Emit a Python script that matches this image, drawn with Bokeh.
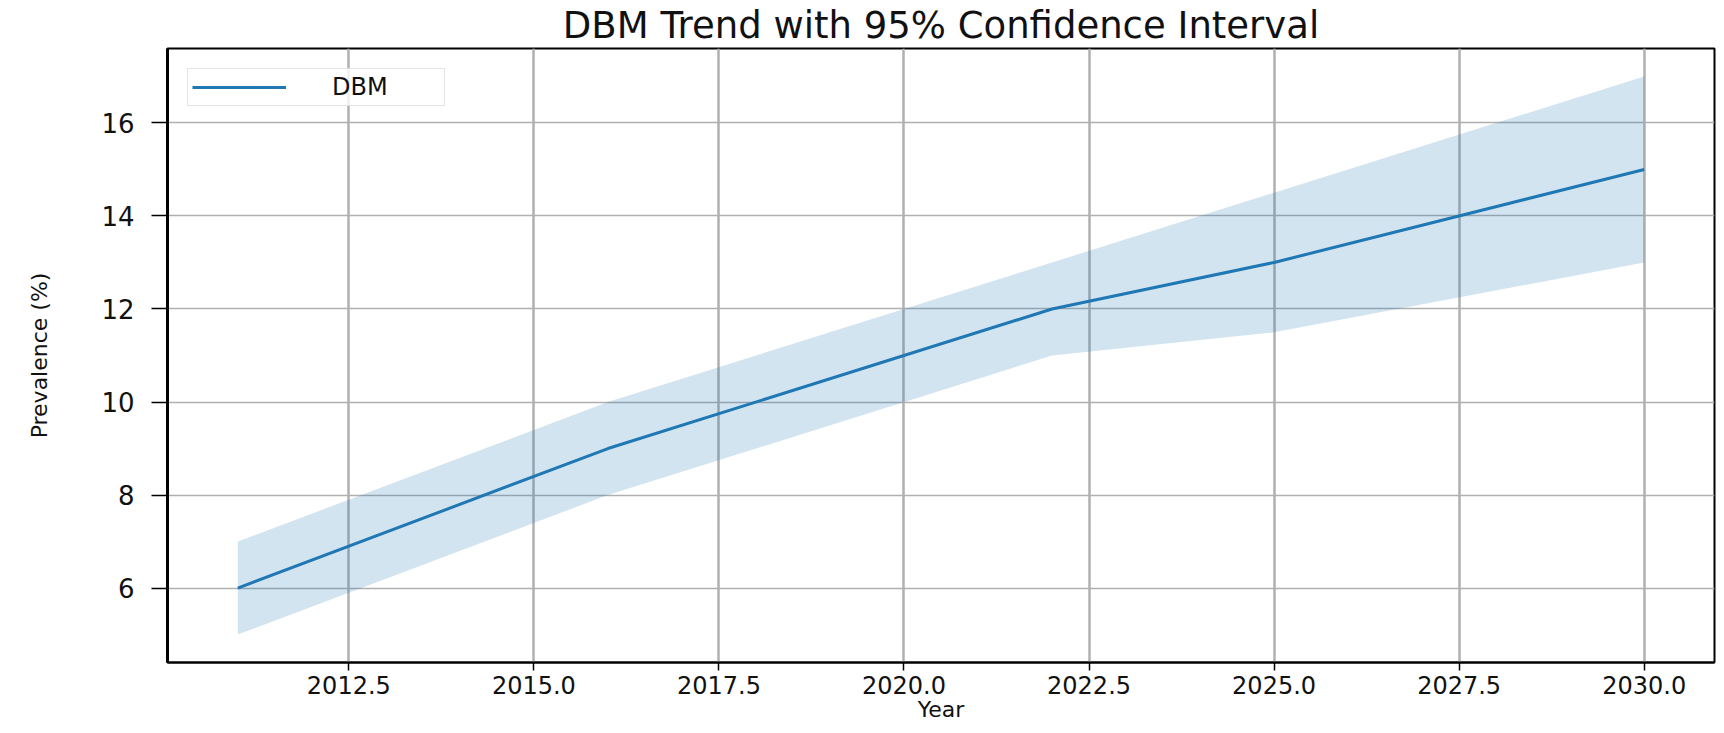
from bokeh.plotting import figure
from bokeh.models import FixedTicker, Range1d, Legend, LegendItem, ColumnDataSource, CustomJSTickFormatter
from bokeh.embed import file_html
from bokeh.resources import INLINE

# ---- data ----
years = [2011, 2016, 2022, 2025, 2030]
dbm = [6, 9, 12, 13, 15]
lower = [5, 8, 11, 11.5, 13]
upper = [7, 10, 13, 14.5, 17]
x_ticks = [2012.5, 2015.0, 2017.5, 2020.0, 2022.5, 2025.0, 2027.5, 2030.0]
y_ticks = [6, 8, 10, 12, 14, 16]
title_text = "DBM Trend with 95% Confidence Interval"
x_label = "Year"
y_label = "Prevalence (%)"
series_name = "DBM"

FONT = "DejaVu Sans"
BLUE = "#1f77b4"

xmin, xmax = min(years), max(years)
ymin, ymax = min(lower), max(upper)
xpad = (xmax - xmin) * 0.05
ypad = (ymax - ymin) * 0.05

src = ColumnDataSource(dict(x=years, y=dbm, lo=lower, hi=upper))

p = figure(width=1716, height=728, output_backend="svg", toolbar_location=None,
           x_range=Range1d(xmin - xpad, xmax + xpad),
           y_range=Range1d(ymin - ypad, ymax + ypad),
           min_border_left=167, min_border_right=2, min_border_top=48, min_border_bottom=66)

p.title.text = title_text
p.title.align = "center"
p.title.text_font = FONT
p.title.text_font_size = "37px"
p.title.text_font_style = "normal"
p.title.text_color = "#111111"
p.title.standoff = 3

band = p.varea(x="x", y1="lo", y2="hi", source=src, fill_color=BLUE, fill_alpha=0.2)
line = p.line(x="x", y="y", source=src, line_color=BLUE, line_width=3)

p.xaxis.ticker = FixedTicker(ticks=x_ticks)
p.yaxis.ticker = FixedTicker(ticks=y_ticks)
p.xaxis.formatter = CustomJSTickFormatter(code="return tick.toFixed(1);")

p.xaxis.axis_label = x_label
p.yaxis.axis_label = y_label
for ax in (p.xaxis, p.yaxis):
    ax.axis_label_text_font = FONT
    ax.axis_label_text_font_style = "normal"
    ax.axis_label_text_color = "#111111"
    ax.major_label_text_font = FONT
    ax.major_label_text_color = "#111111"
    ax.minor_tick_line_color = None
    ax.major_tick_in = 0
    ax.major_tick_line_color = "black"
    ax.axis_line_color = "black"

p.xaxis.axis_label_text_font_size = "22px"
p.xaxis.major_label_text_font_size = "24px"
p.xaxis.major_tick_out = 8
p.xaxis.major_tick_line_width = 1.5
p.xaxis.major_label_standoff = 5
p.xaxis.axis_label_standoff = 0
p.xaxis.axis_line_width = 2

p.yaxis.axis_label_text_font_size = "22px"
p.yaxis.major_label_text_font_size = "26px"
p.yaxis.major_tick_out = 16
p.yaxis.major_tick_line_width = 1.5
p.yaxis.major_label_standoff = 17
p.yaxis.axis_label_standoff = 46
p.yaxis.axis_line_width = 3

p.xgrid.grid_line_color = "#b0b0b0"
p.xgrid.grid_line_width = 2.5
p.ygrid.grid_line_color = "#b0b0b0"
p.ygrid.grid_line_width = 1.7

p.outline_line_color = "black"
p.outline_line_width = 2
p.background_fill_color = "white"
p.border_fill_color = "white"

legend = Legend(items=[LegendItem(label=series_name, renderers=[line])],
                location="top_left", margin=20, padding=4, spacing=0,
                glyph_width=94, glyph_height=18, label_standoff=46, label_width=108,
                label_text_font=FONT, label_text_font_size="24px", label_text_color="#111111",
                border_line_color="#cccccc", border_line_width=1.5,
                background_fill_color="white", background_fill_alpha=0.8)
p.add_layout(legend)

open("out.html", "w").write(file_html(p, INLINE))
